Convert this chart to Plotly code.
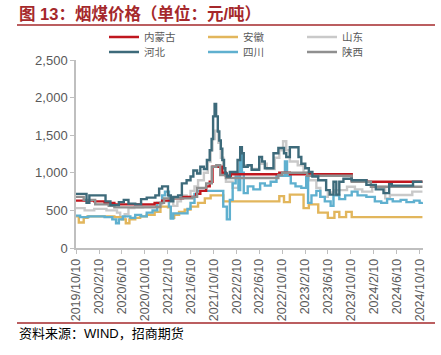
import plotly.graph_objects as go

# ---------------- data ----------------
nmg_dates = ["2019-10-10","2020-01-15","2020-03-10","2020-05-01","2020-09-01","2020-12-01","2021-01-10",
             "2021-03-01","2021-05-01","2021-07-10","2021-08-01","2021-09-01","2021-09-20","2021-10-05",
             "2021-11-25","2021-12-15","2022-01-10","2022-09-25","2022-11-20","2023-10-15","2024-01-01","2024-10-25"]
nmg_vals = [630,620,600,580,580,600,630,660,680,720,760,820,880,1080,1000,960,980,1000,980,900,880,880]

hb_dates = ["2019-10-10","2019-12-05","2019-12-20","2020-03-15","2020-04-10","2020-05-25","2020-06-20",
            "2020-07-15","2020-08-20","2020-09-20","2020-10-20","2020-12-05","2020-12-25","2021-01-10",
            "2021-02-10","2021-02-25","2021-03-10","2021-04-05","2021-04-25","2021-05-20","2021-06-10",
            "2021-06-25","2021-07-15","2021-08-01","2021-08-20","2021-09-05","2021-09-20","2021-09-30",
            "2021-10-08","2021-10-16","2021-10-24","2021-11-02","2021-11-10","2021-11-18","2021-11-26",
            "2021-12-05","2021-12-12","2021-12-20","2022-01-05","2022-02-15","2022-03-01","2022-03-10",
            "2022-03-20","2022-04-10","2022-05-01","2022-06-10","2022-06-25","2022-07-10","2022-08-25",
            "2022-09-20","2022-10-20","2022-11-01","2022-11-20","2023-01-05","2023-01-20","2023-02-10",
            "2023-03-01","2023-03-20","2023-04-20","2023-06-01","2023-06-20","2023-07-10","2023-07-25",
            "2023-08-10","2023-09-01","2023-10-15","2024-01-01","2024-02-20","2024-04-01","2024-05-01",
            "2024-05-15","2024-09-05","2024-10-25"]
hb_vals = [720,600,700,620,570,610,640,590,580,650,670,700,790,820,700,620,680,700,860,900,950,
           1030,990,1080,1050,1170,1300,1450,1750,1915,1750,1550,1430,1320,1170,1060,990,950,1010,
           1170,1340,1260,1080,1100,1040,1210,1150,1060,1260,1330,1260,1210,1340,1210,1120,1060,
           1010,950,900,770,710,880,710,880,920,900,840,780,730,850,830,880,880]

ah_dates = ["2019-10-10","2019-10-25","2019-11-20","2019-12-10","2020-05-01","2020-06-10","2020-07-01",
            "2020-07-20","2020-08-20","2020-09-15","2020-10-20","2020-12-01","2021-01-01","2021-02-10",
            "2021-02-25","2021-03-15","2021-04-10","2021-05-10","2021-06-10","2021-07-20","2021-08-25",
            "2021-09-25","2021-12-01","2022-09-25","2022-10-20","2022-11-20","2023-02-01","2023-03-01",
            "2023-04-20","2023-06-10","2023-07-15","2023-08-10","2023-09-15","2023-10-15","2024-10-25"]
ah_vals = [420,340,400,420,410,380,330,380,400,420,440,480,550,540,400,440,480,510,550,600,660,
           700,620,690,610,710,530,580,470,400,480,410,480,410,410]

sd_dates = ["2019-10-10","2019-11-25","2020-01-15","2020-03-20","2020-05-15","2020-06-01","2020-06-25",
            "2020-07-15","2020-08-15","2020-10-01","2020-12-15","2021-01-10","2021-02-15","2021-03-10",
            "2021-04-01","2021-04-20","2021-05-20","2021-06-10","2021-07-01","2021-07-20","2021-08-20",
            "2021-09-10","2021-09-25","2021-10-05","2021-10-18","2021-11-05","2021-11-18","2021-12-01",
            "2021-12-15","2022-01-20","2022-02-20","2022-03-10","2022-05-01","2022-06-10","2022-07-20",
            "2022-09-01","2022-09-25","2022-10-15","2022-11-01","2022-11-20","2023-01-01","2023-02-01",
            "2023-03-01","2023-04-10","2023-05-01","2023-06-10","2023-07-20","2023-09-20","2023-11-01",
            "2023-12-10","2024-02-01","2024-04-10","2024-05-05","2024-09-01","2024-10-25"]
sd_vals = [530,500,520,500,470,400,450,530,540,560,580,620,640,560,620,700,680,760,820,900,1000,
           1150,1300,1450,1560,1400,1200,1000,880,800,1000,1100,1050,1120,1050,1200,1300,1420,1300,
           1150,1100,1000,900,800,680,740,770,815,780,750,815,660,705,750,750]

sc_dates = ["2019-10-10","2019-11-01","2019-12-15","2020-03-10","2020-04-20","2020-05-10","2020-05-25",
            "2020-06-15","2020-07-25","2020-08-20","2020-09-20","2020-10-20","2020-11-20","2020-12-15",
            "2021-01-10","2021-01-25","2021-02-15","2021-02-25","2021-03-10","2021-05-25","2021-06-10",
            "2021-07-01","2021-07-15","2021-12-01","2021-12-20","2022-01-05","2022-01-20","2022-02-05",
            "2022-02-20","2022-03-01","2022-03-10","2022-03-20","2022-04-10","2022-05-10","2022-06-15",
            "2022-07-10","2022-08-10","2022-09-10","2022-10-25","2022-11-05","2022-11-25","2022-12-20",
            "2023-01-20","2023-02-15","2023-02-25","2023-03-15","2023-04-10","2023-05-01","2023-05-25",
            "2023-06-25","2023-07-10","2023-08-10","2023-09-10","2023-10-15","2023-11-15","2024-01-01",
            "2024-02-15","2024-03-20","2024-04-20","2024-05-20","2024-07-01","2024-08-01","2024-09-10",
            "2024-10-10","2024-10-25"]
sc_vals = [430,410,420,410,380,330,380,420,400,440,420,470,500,600,700,750,550,390,460,520,600,
           720,760,550,380,640,860,950,770,1250,1000,730,820,780,860,830,880,960,1150,960,860,820,
           800,940,600,700,760,680,620,560,700,650,700,750,700,680,620,600,650,620,640,610,630,600,610]

sx_dates = ["2019-10-10","2019-11-20","2020-01-20","2020-04-01","2020-05-01","2020-12-10","2021-01-01",
            "2021-01-20","2021-06-20","2021-07-15","2021-09-01","2021-10-01","2021-10-25","2021-11-15",
            "2021-12-15","2022-09-20","2022-10-10","2023-02-20","2023-10-15","2024-01-25","2024-10-25"]
sx_vals = [680,640,580,560,540,545,600,660,680,800,860,1080,1100,970,930,970,1000,960,880,815,815]

tick_dates = ["2019-10-10","2020-02-10","2020-06-10","2020-10-10","2021-02-10","2021-06-10",
              "2021-10-10","2022-02-10","2022-06-10","2022-10-10","2023-02-10","2023-06-10",
              "2023-10-10","2024-02-10","2024-06-10","2024-10-10"]
tick_text = ["2019/10/10","2020/2/10","2020/6/10","2020/10/10","2021/2/10","2021/6/10",
             "2021/10/10","2022/2/10","2022/6/10","2022/10/10","2023/2/10","2023/6/10",
             "2023/10/10","2024/2/10","2024/6/10","2024/10/10"]

# ---------------- figure ----------------
CN = "Noto Sans CJK SC"
LAT = "Liberation Sans"
GREY_TXT = "#595959"
PW, PH = 347, 188  # plot area size

series = [
    # name, dates, vals, color, legend, rank
    ("山东", sd_dates, sd_vals, "#c9c9c9", "legend", 3),
    ("安徽", ah_dates, ah_vals, "#e2b65c", "legend", 2),
    ("四川", sc_dates, sc_vals, "#5fb0cf", "legend2", 5),
    ("内蒙古", nmg_dates, nmg_vals, "#c0161e", "legend", 1),
    ("陕西", sx_dates, sx_vals, "#8f8f8f", "legend2", 6),
    ("河北", hb_dates, hb_vals, "#3d6a7a", "legend2", 4),
]

fig = go.Figure()
for name, d, v, c, lg, rk in series:
    fig.add_trace(go.Scatter(x=d, y=v, name=name, mode="lines",
                             line=dict(color=c, width=2.4, shape="hv"),
                             legend=lg, legendrank=rk))

legend_common = dict(orientation="h", xref="paper", yref="paper",
                     xanchor="left", yanchor="middle", entrywidth=54, entrywidthmode="pixels",
                     font=dict(family=CN, size=10.5, color=GREY_TXT), bgcolor="rgba(0,0,0,0)",
                     itemwidth=30, tracegroupgap=0, borderwidth=0)

fig.update_layout(
    width=441, height=355,
    margin=dict(l=76, r=18, t=60, b=107, autoexpand=False),
    paper_bgcolor="white", plot_bgcolor="white",
    showlegend=True,
    legend=dict(x=(104 - 76) / PW, y=1 + (60 - 37) / PH, **legend_common),
    legend2=dict(x=(104 - 76) / PW, y=1 + (60 - 52) / PH, **legend_common),
    xaxis=dict(type="date", range=["2019-10-10", "2024-10-28"],
               tickvals=tick_dates, ticktext=tick_text, tickangle=-90,
               tickfont=dict(family=LAT, size=12.5, color=GREY_TXT),
               showline=True, linecolor="#bfbfbf", linewidth=1.5,
               ticks="outside", ticklen=4, tickcolor="#bfbfbf",
               showgrid=False, zeroline=False),
    yaxis=dict(range=[0, 2500], dtick=500, tickformat=",",
               tickfont=dict(family=LAT, size=13, color=GREY_TXT),
               showline=True, linecolor="#bfbfbf", linewidth=1.5,
               ticks="outside", ticklen=4, tickcolor="#bfbfbf",
               showgrid=False, zeroline=False),
)

fig.add_annotation(text="<b>图 13：烟煤价格（单位：元/吨）</b>", xref="paper", yref="paper",
                   x=-59 / PW, y=1 + 47 / PH, xanchor="left", yanchor="middle", showarrow=False,
                   font=dict(family=LAT + ", " + CN, size=16.5, color="#a5282b"))
fig.add_annotation(text="资料来源：WIND，招商期货", xref="paper", yref="paper",
                   x=-59 / PW, y=-(333 - 248) / PH, xanchor="left", yanchor="middle", showarrow=False,
                   font=dict(family=LAT + ", " + CN, size=13, color="#000000"))
fig.add_shape(type="line", xref="paper", yref="paper",
              x0=-59 / PW, x1=1 + 12 / PW, y0=1 + 35 / PH, y1=1 + 35 / PH,
              line=dict(color="#a5282b", width=1.5))
fig.add_shape(type="line", xref="paper", yref="paper",
              x0=-59 / PW, x1=1 + 12 / PW, y0=-(323 - 248) / PH, y1=-(323 - 248) / PH,
              line=dict(color="#a5282b", width=1.5))

fig.write_html("out.html", config={"displayModeBar": False},
               post_script="document.body.style.margin='0';")
